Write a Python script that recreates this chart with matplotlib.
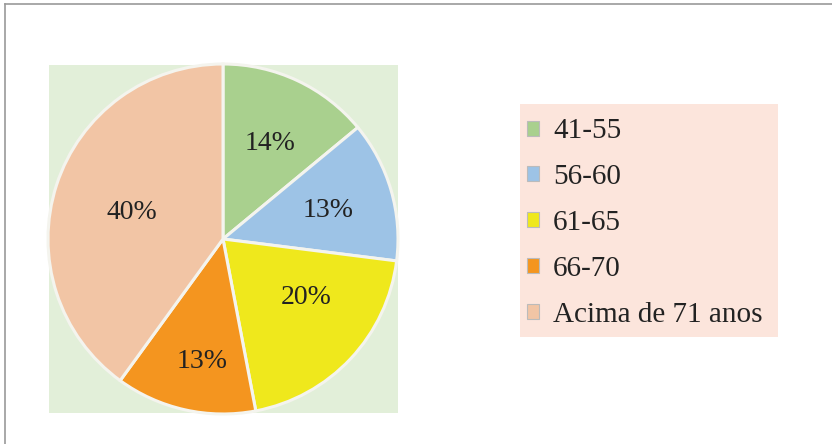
import matplotlib
matplotlib.use("Agg")
import matplotlib.pyplot as plt
import numpy as np
from matplotlib.patches import Rectangle, Patch
from matplotlib.lines import Line2D

# faixas etarias e percentuais
faixas = ['41-55', '56-60', '61-65', '66-70', 'Acima de 71 anos']
valores = [14, 13, 20, 13, 40]
cores = ['#a9d08e', '#9dc3e6', '#efe81c', '#f4951f', '#f2c5a5']

W, H = 832, 444
fig = plt.figure(figsize=(W / 100, H / 100), dpi=100)
plt.rcParams['font.family'] = 'Liberation Serif'

# moldura (so topo e esquerda)
fig.add_artist(Line2D([5 / W, 1], [1 - 4.5 / H, 1 - 4.5 / H], color='#9a9a9a', lw=1.2, transform=fig.transFigure))
fig.add_artist(Line2D([5 / W, 5 / W], [0, 1 - 4.5 / H], color='#9a9a9a', lw=1.2, transform=fig.transFigure))

# fundo verde atras da pizza
fig.add_artist(Rectangle((49 / W, 1 - 413 / H), 349 / W, 348 / H, transform=fig.transFigure,
                         facecolor='#e2efd9', edgecolor='none', zorder=0))
# fundo rosa da legenda
fig.add_artist(Rectangle((520 / W, 1 - 337 / H), 258 / W, 233 / H, transform=fig.transFigure,
                         facecolor='#fce5dc', edgecolor='none', zorder=0))

cx, cy, r = 223, 239, 175
ax = fig.add_axes([(cx - r) / W, (H - cy - r) / H, 2 * r / W, 2 * r / H])
ax.set_facecolor('none')
wedges, texts, autotexts = ax.pie(valores, colors=cores, startangle=90, counterclock=False,
                                  autopct='%1.0f%%', pctdistance=0.62, radius=1,
                                  wedgeprops=dict(edgecolor='#f4f4ee', linewidth=2.2),
                                  textprops=dict(fontsize=20, color='#222222'))

# posicao dos rotulos: distancia do centro e deslocamento angular
dist = [0.61, 0.62, 0.58, 0.71, 0.54]
desloc = [-1, -1, 8, 3, 2]
for w, t, d, da in zip(wedges, autotexts, dist, desloc):
    ang = np.deg2rad((w.theta1 + w.theta2) / 2 + da)
    t.set_position((d * np.cos(ang), d * np.sin(ang)))

ax.set_xlim(-1.0, 1.0)
ax.set_ylim(-1.0, 1.0)
ax.set_aspect('equal')

handles = [Patch(facecolor=c, edgecolor='#bbbbbb', linewidth=0.8) for c in cores]
leg = fig.legend(handles, faixas, loc='upper left', bbox_to_anchor=(527 / W, 1 - 118.5 / H),
                 frameon=False, fontsize=21, handlelength=0.42, handleheight=0.42,
                 handletextpad=0.48, labelspacing=0.68, borderpad=0, borderaxespad=0)
for t in leg.get_texts():
    t.set_color('#222222')

fig.savefig('out.png', dpi=100)
